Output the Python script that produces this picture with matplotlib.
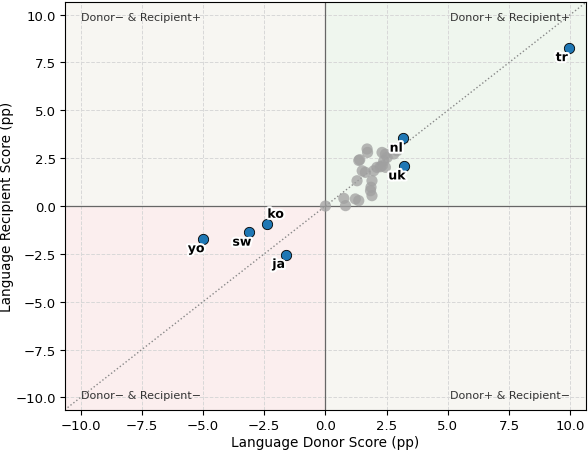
import matplotlib
matplotlib.use('Agg')
import matplotlib.pyplot as plt
import matplotlib.patheffects as pe

# highlighted languages
langs = ['tr', 'nl', 'uk', 'ko', 'sw', 'yo', 'ja']
lang_donor = [9.93, 3.17, 3.2, -2.38, -3.13, -5.0, -1.63]
lang_recip = [8.26, 3.53, 2.08, -0.94, -1.38, -1.72, -2.54]

# remaining languages (grey cluster)
other_donor = [0.0, 0.75, 0.82, 1.22, 1.36, 1.29, 1.4, 1.36, 1.70, 1.72, 1.5,
               1.63, 1.9, 1.86, 1.9, 1.97, 2.1, 2.31, 2.31, 2.45, 2.52, 2.45,
               2.93, 2.38, 1.84, 2.79, 2.24]
other_recip = [0.0, 0.4, 0.02, 0.37, 0.28, 1.32, 2.42, 2.38, 2.98, 2.8, 1.84,
               1.76, 1.32, 0.98, 0.54, 1.84, 2.02, 2.1, 2.8, 2.71, 2.54, 2.02,
               2.89, 2.36, 0.8, 2.72, 2.05]

# label offsets in points
label_off = {'ko': (6, 7)}
default_off = (-5, -7)

lim = 10.65

fig, ax = plt.subplots(figsize=(5.88, 4.52), dpi=100)
fig.subplots_adjust(left=0.11, right=0.997, top=0.993, bottom=0.091)

ax.set_xlim(-lim, lim)
ax.set_ylim(-lim, lim)

# quadrant shading
ax.fill_between([0, lim], 0, lim, color='#eff6ee', zorder=0)
ax.fill_between([-lim, 0], -lim, 0, color='#fbeeee', zorder=0)
ax.fill_between([-lim, 0], 0, lim, color='#f7f6f2', zorder=0)
ax.fill_between([0, lim], -lim, 0, color='#f7f6f2', zorder=0)

ax.grid(True, linestyle='--', color='#d8d8d8', linewidth=0.7, zorder=1)
ax.set_axisbelow(True)

ax.axhline(0, color='#666666', linewidth=0.9, zorder=2)
ax.axvline(0, color='#666666', linewidth=0.9, zorder=2)
ax.plot([-lim, lim], [-lim, lim], linestyle=':', color='#888888', linewidth=1.0, zorder=2)

ax.scatter(other_donor, other_recip, s=65, color='#a0a0a0', alpha=0.75,
           edgecolors='none', zorder=3)
ax.scatter(lang_donor, lang_recip, s=55, color='#1f77b4', edgecolors='black',
           linewidths=0.6, zorder=4)

for name, x, y in zip(langs, lang_donor, lang_recip):
    off = label_off.get(name, default_off)
    ax.annotate(name, (x, y), xytext=off, textcoords='offset points',
                ha='center', va='center', fontsize=9, fontweight='bold',
                zorder=5,
                path_effects=[pe.withStroke(linewidth=3, foreground='white')])

qkw = dict(fontsize=8, color='#333333', va='center')
ax.text(-10.0, 9.85, 'Donor\u2212 & Recipient+', ha='left', **qkw)
ax.text(10.0, 9.85, 'Donor+ & Recipient+', ha='right', **qkw)
ax.text(-10.0, -9.85, 'Donor\u2212 & Recipient\u2212', ha='left', **qkw)
ax.text(10.0, -9.85, 'Donor+ & Recipient\u2212', ha='right', **qkw)

ax.tick_params(labelsize=9.5, pad=3)
ax.set_xlabel('Language Donor Score (pp)', fontsize=9.8, labelpad=2)
ax.set_ylabel('Language Recipient Score (pp)', fontsize=9.8, labelpad=1)

fig.savefig('out.png', dpi=100)
